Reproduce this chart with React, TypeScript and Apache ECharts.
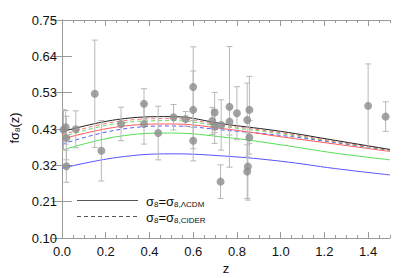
import React, { useEffect, useRef } from "react";
import * as echarts from "echarts";

// Model curves fσ8(z)
const zCurve = [0, 0.25, 0.5, 0.75, 1.0, 1.25, 1.5];
const blackSolid = [0.417, 0.453, 0.462, 0.439, 0.418, 0.391, 0.364];
const redDashed = [0.408, 0.447, 0.456, 0.435, 0.414, 0.388, 0.363];
const greenDashed = [0.402, 0.441, 0.45, 0.431, 0.411, 0.386, 0.362];
const redSolid = [0.395, 0.431, 0.44, 0.425, 0.402, 0.38, 0.358];
const blueDashed = [0.38, 0.422, 0.434, 0.421, 0.406, 0.384, 0.361];
const greenSolid = [0.362, 0.402, 0.413, 0.4, 0.378, 0.353, 0.333];
const blueSolid = [0.308, 0.34, 0.351, 0.344, 0.329, 0.307, 0.288];

// Observational data points
const dataZ = [0.007, 0.017, 0.02, 0.02, 0.063, 0.15, 0.18, 0.27, 0.375, 0.375, 0.44, 0.51, 0.565, 0.6, 0.6, 0.6, 0.687, 0.698, 0.698, 0.728, 0.725, 0.766, 0.766, 0.8, 0.847, 0.857, 0.857, 0.847, 0.85, 1.4, 1.48];
const dataF = [0.423, 0.43, 0.398, 0.314, 0.424, 0.53, 0.36, 0.44, 0.5, 0.44, 0.413, 0.46, 0.455, 0.55, 0.482, 0.39, 0.449, 0.474, 0.432, 0.437, 0.268, 0.491, 0.447, 0.472, 0.452, 0.482, 0.4, 0.298, 0.313, 0.494, 0.462];
const dataErr = [0.06, 0.05, 0.065, 0.048, 0.055, 0.16, 0.09, 0.05, 0.045, 0.06, 0.08, 0.038, 0.022, 0.12, 0.116, 0.06, 0.04, 0.06, 0.05, 0.075, 0.05, 0.18, 0.04, 0.079, 0.11, 0.1, 0.05, 0.08, 0.1, 0.125, 0.044];

const xMajor = [0, 0.2, 0.4, 0.6, 0.8, 1.0, 1.2, 1.4];
const yTickLabels = ["0.10", "0.21", "0.32", "0.43", "0.53", "0.64", "0.75"];
const yMin = 0.1;
const yMax = 0.75;

export default function App() {
  const ref = useRef<HTMLDivElement>(null);
  useEffect(() => {
    if (!ref.current) return;
    const chart = echarts.init(ref.current, null, { renderer: "svg" });
    const yTicks = yTickLabels.map((_, i) => yMin + (i * (yMax - yMin)) / (yTickLabels.length - 1));
    const axisColor = "#9a9a9a";
    const font = "'Liberation Sans', Arial, sans-serif";

    const mkLine = (name: string, vals: number[], color: string, dashed: boolean) => ({
      type: "line",
      name,
      data: zCurve.map((z, i) => [z, vals[i]]),
      smooth: 0.4,
      showSymbol: false,
      symbol: "none",
      lineStyle: { color, width: 1, type: dashed ? [4, 3] : "solid" },
      xAxisIndex: 0,
      yAxisIndex: 0,
      z: 2,
      silent: true,
    });

    const xBase = {
      type: "value",
      min: 0,
      max: 1.5,
      gridIndex: 0,
      splitLine: { show: false },
    };

    const option: any = {
      animation: false,
      grid: { left: 62, right: 17, top: 20, bottom: 40 },
      xAxis: [
        {
          ...xBase,
          position: "bottom",
          interval: 0.05,
          axisLine: { show: true, lineStyle: { color: axisColor, width: 1 } },
          axisTick: { show: true, inside: true, length: 3, lineStyle: { color: axisColor } },
          axisLabel: {
            show: true,
            customValues: xMajor,
            formatter: (v: number) => v.toFixed(1),
            color: "#111",
            fontSize: 13,
            fontFamily: font,
            margin: 7,
          },
        },
        {
          ...xBase,
          position: "bottom",
          axisLine: { show: false },
          axisTick: { show: true, inside: true, length: 6, customValues: xMajor, lineStyle: { color: axisColor } },
          axisLabel: { show: false },
        },
        {
          ...xBase,
          position: "top",
          interval: 0.05,
          axisLine: { show: true, lineStyle: { color: axisColor, width: 1 } },
          axisTick: { show: true, inside: true, length: 3, lineStyle: { color: axisColor } },
          axisLabel: { show: false },
        },
        {
          ...xBase,
          position: "top",
          axisLine: { show: false },
          axisTick: { show: true, inside: true, length: 6, customValues: xMajor, lineStyle: { color: axisColor } },
          axisLabel: { show: false },
        },
      ],
      yAxis: [
        {
          type: "value",
          min: yMin,
          max: yMax,
          position: "left",
          splitLine: { show: false },
          axisLine: { show: true, lineStyle: { color: axisColor, width: 1 } },
          axisTick: { show: true, inside: true, length: 10, customValues: yTicks, lineStyle: { color: axisColor } },
          axisLabel: {
            show: true,
            customValues: yTicks,
            formatter: (v: number) => {
              let best = 0;
              let bd = Infinity;
              yTicks.forEach((t, i) => {
                const d = Math.abs(t - v);
                if (d < bd) { bd = d; best = i; }
              });
              return yTickLabels[best];
            },
            color: "#111",
            fontSize: 13,
            fontFamily: font,
            margin: 5,
          },
        },
        {
          type: "value",
          min: yMin,
          max: yMax,
          position: "right",
          splitLine: { show: false },
          axisLine: { show: true, lineStyle: { color: axisColor, width: 1 } },
          axisTick: { show: true, inside: true, length: 10, customValues: yTicks, lineStyle: { color: axisColor } },
          axisLabel: { show: false },
        },
      ],
      series: [
        mkLine("blueSolid", blueSolid, "#5555ff", false),
        mkLine("greenSolid", greenSolid, "#55e055", false),
        mkLine("blueDashed", blueDashed, "#5a5aff", true),
        mkLine("redSolid", redSolid, "#ff5a5a", false),
        mkLine("greenDashed", greenDashed, "#66dd66", true),
        mkLine("redDashed", redDashed, "#ff7272", true),
        mkLine("blackSolid", blackSolid, "#222222", false),
        {
          type: "custom",
          name: "errors",
          xAxisIndex: 0,
          yAxisIndex: 0,
          z: 3,
          silent: true,
          clip: true,
          data: dataZ.map((z, i) => [z, dataF[i] - dataErr[i], dataF[i] + dataErr[i]]),
          encode: { x: 0, y: [1, 2] },
          renderItem: (params: any, api: any) => {
            const z = api.value(0);
            const lo = api.value(1);
            const hi = api.value(2);
            const p1 = api.coord([z, hi]);
            const p2 = api.coord([z, lo]);
            const st = { stroke: "#b8b8b8", lineWidth: 1 };
            return {
              type: "group",
              children: [
                { type: "line", shape: { x1: p1[0], y1: p1[1], x2: p2[0], y2: p2[1] }, style: st },
                { type: "line", shape: { x1: p1[0] - 3, y1: p1[1], x2: p1[0] + 3, y2: p1[1] }, style: st },
                { type: "line", shape: { x1: p2[0] - 3, y1: p2[1], x2: p2[0] + 3, y2: p2[1] }, style: st },
              ],
            };
          },
        },
        {
          type: "scatter",
          name: "data",
          xAxisIndex: 0,
          yAxisIndex: 0,
          z: 4,
          symbol: "circle",
          symbolSize: 8,
          itemStyle: { color: "#8c8c8c" },
          silent: true,
          data: dataZ.map((z, i) => [z, dataF[i]]),
        },
      ],
      graphic: [
        {
          type: "line",
          shape: { x1: 77, y1: 200.5, x2: 138, y2: 200.5 },
          style: { stroke: "#555", lineWidth: 1 },
        },
        {
          type: "line",
          shape: { x1: 77, y1: 216.5, x2: 138, y2: 216.5 },
          style: { stroke: "#555", lineWidth: 1, lineDash: [4, 3] },
        },
        {
          type: "text",
          x: 146,
          y: 201,
          style: {
            text: "{a|σ}{s|8}{a|=σ}{s|8,ΛCDM}",
            verticalAlign: "middle",
            fill: "#111",
            rich: {
              a: { fontSize: 13, fontFamily: font, fill: "#111" },
              s: { fontSize: 8, fontFamily: font, fill: "#111", padding: [6, 0, 0, 0] },
            },
          },
        },
        {
          type: "text",
          x: 146,
          y: 217,
          style: {
            text: "{a|σ}{s|8}{a|=σ}{s|8,CIDER}",
            verticalAlign: "middle",
            fill: "#111",
            rich: {
              a: { fontSize: 13, fontFamily: font, fill: "#111" },
              s: { fontSize: 8, fontFamily: font, fill: "#111", padding: [6, 0, 0, 0] },
            },
          },
        },
        {
          type: "text",
          x: 226,
          y: 268,
          style: { text: "z", fontSize: 13, fontFamily: font, fill: "#111", align: "center", verticalAlign: "middle" },
        },
        {
          type: "text",
          x: 14,
          y: 128,
          rotation: Math.PI / 2,
          style: {
            text: "{a|fσ}{s|8}{a|(z)}",
            align: "center",
            verticalAlign: "middle",
            fill: "#111",
            rich: {
              a: { fontSize: 13, fontFamily: font, fill: "#111" },
              s: { fontSize: 8, fontFamily: font, fill: "#111", padding: [6, 0, 0, 0] },
            },
          },
        },
      ],
    };
    chart.setOption(option);
    return () => chart.dispose();
  }, []);
  return (
    <div
      ref={ref}
      style={{ position: "fixed", left: 0, top: 0, width: 407, height: 278, background: "#fff" }}
    />
  );
}
